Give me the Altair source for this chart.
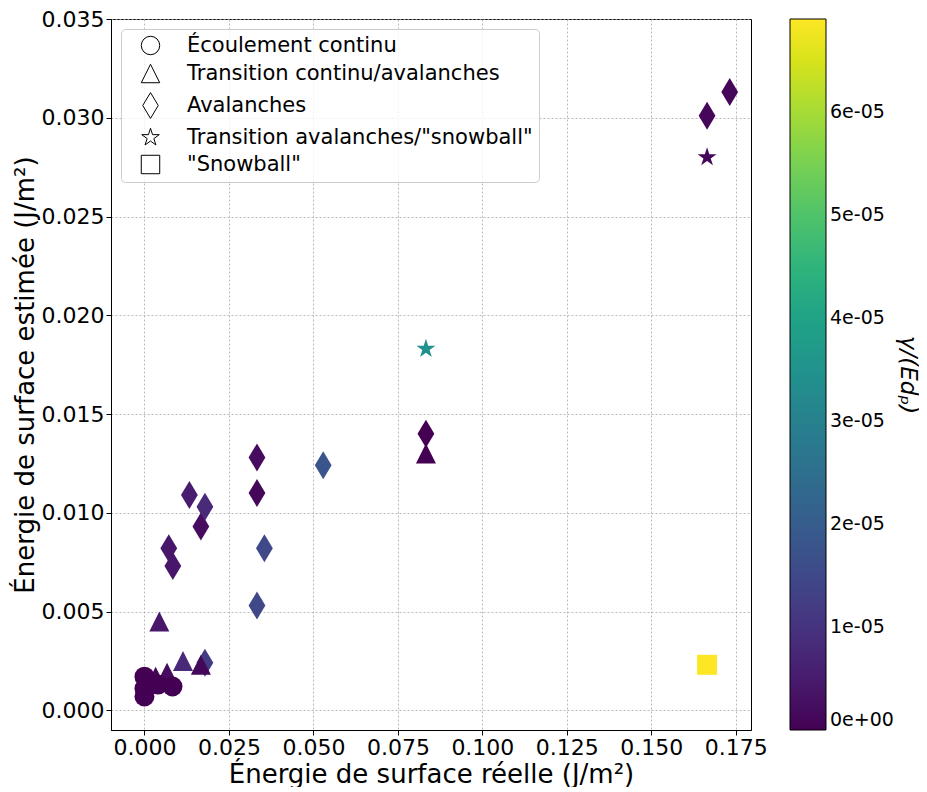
import altair as alt
import pandas as pd

# ---- data ----
categories = ["Écoulement continu", "Transition continu/avalanches", "Avalanches",
              'Transition avalanches/"snowball"', '"Snowball"']

# Avalanches (thin diamonds)
aval_x = [0.0072, 0.0084, 0.0133, 0.0167, 0.0179, 0.0179, 0.0333, 0.0333, 0.0333, 0.0355, 0.0529, 0.0833, 0.1665, 0.1732]
aval_y = [0.0082, 0.0073, 0.0109, 0.0093, 0.0103, 0.0024, 0.0128, 0.0110, 0.0053, 0.0082, 0.0124, 0.0140, 0.0301, 0.0313]
aval_c = [4e-6, 4e-6, 5e-6, 2e-6, 8e-6, 1.2e-5, 2e-6, 1e-6, 1.5e-5, 1.5e-5, 1.8e-5, 0.0, 1e-6, 1e-6]

# Transition continu/avalanches (triangles)
trans_x = [0.0033, 0.0067, 0.0044, 0.0114, 0.0167, 0.0833]
trans_y = [0.0017, 0.0019, 0.0045, 0.0025, 0.0023, 0.0130]
trans_c = [1e-6, 2e-6, 4e-6, 8e-6, 1e-6, 0.0]

# Écoulement continu (circles)
cont_x = [0.0000, 0.0000, 0.0000, 0.0040, 0.0083]
cont_y = [0.0017, 0.0007, 0.0011, 0.0013, 0.0012]
cont_c = [0.0, 0.0, 0.0, 0.0, 0.0]

# Transition avalanches/"snowball" (stars)
star_x = [0.0833, 0.1665]
star_y = [0.0183, 0.0280]
star_c = [3.45e-5, 1e-6]

# "Snowball" (square)
snow_x = [0.1665]
snow_y = [0.0023]
snow_c = [6.9e-5]

x_ticks = [0.0, 0.025, 0.05, 0.075, 0.1, 0.125, 0.15, 0.175]
y_ticks = [0.0, 0.005, 0.01, 0.015, 0.02, 0.025, 0.03, 0.035]
c_ticks = [0.0, 1e-5, 2e-5, 3e-5, 4e-5, 5e-5, 6e-5]

rows = []
for xs, ys, cs, cat in [(aval_x, aval_y, aval_c, categories[2]),
                        (trans_x, trans_y, trans_c, categories[1]),
                        (cont_x, cont_y, cont_c, categories[0]),
                        (star_x, star_y, star_c, categories[3]),
                        (snow_x, snow_y, snow_c, categories[4])]:
    for a, b, c in zip(xs, ys, cs):
        rows.append({"x": a, "y": b, "c": c, "cat": cat})
df = pd.DataFrame(rows)
df["order"] = range(len(df))

tri_path = "M0,-1L1,1L-1,1Z"
thin_diamond = "M0,-1.4L0.84,0L0,1.4L-0.84,0Z"
star_path = ("M0,-1L0.2245,-0.309L0.951,-0.309L0.363,0.118L0.588,0.809L0,0.382"
             "L-0.588,0.809L-0.363,0.118L-0.951,-0.309L-0.2245,-0.309Z")
shapes = ["circle", tri_path, thin_diamond, star_path, "square"]

font = "DejaVu Sans"

chart = alt.Chart(df).mark_point(filled=True, opacity=1, size=400, strokeWidth=0).encode(
    x=alt.X("x:Q", scale=alt.Scale(domain=[-0.0099, 0.1795], nice=False, zero=False),
            axis=alt.Axis(values=x_ticks, format=".3f",
                          title="Énergie de surface réelle (J/m²)", titlePadding=3)),
    y=alt.Y("y:Q", scale=alt.Scale(domain=[-0.001, 0.035], nice=False, zero=False),
            axis=alt.Axis(values=y_ticks, format=".3f",
                          title="Énergie de surface estimée (J/m²)", titlePadding=3)),
    shape=alt.Shape("cat:N", scale=alt.Scale(domain=categories, range=shapes),
                    legend=alt.Legend(title=None, orient="none", legendX=10, legendY=10,
                                      symbolFillColor="white", symbolStrokeColor="black",
                                      symbolStrokeWidth=1, symbolSize=340, symbolOpacity=1,
                                      labelFontSize=21, labelFont=font, labelColor="black",
                                      labelOffset=26, symbolOffset=13, rowPadding=5,
                                      padding=6, fillColor="rgba(255,255,255,0.8)",
                                      strokeColor="#cccccc", cornerRadius=4,
                                      labelLimit=500)),
    color=alt.Color("c:Q", scale=alt.Scale(scheme="viridis", domain=[0, 6.9e-5]),
                    legend=alt.Legend(title="γ/(Edₚ)", orient="right", offset=39,
                                      gradientLength=711, gradientThickness=36,
                                      gradientStrokeColor="black", gradientStrokeWidth=1,
                                      values=c_ticks, labelOverlap=False,
                                      labelExpr="datum.value == 0 ? '0e+00' : replace(format(datum.value, '.0e'), 'e-', 'e-0')",
                                      labelFontSize=19, labelFont=font, labelColor="black",
                                      labelOffset=4, labelBaseline="middle",
                                      titleOrient="right", titleAnchor="middle",
                                      titleFontSize=23, titleFont=font, titleFontStyle="italic",
                                      titleFontWeight="normal", titleColor="black",
                                      titlePadding=2, padding=0)),
    order=alt.Order("order:Q"),
).properties(
    width=640, height=711, padding={"left": 4, "top": 0, "right": 0, "bottom": 0}
).configure_view(
    stroke="black", strokeWidth=1
).configure_axis(
    labelFont=font, titleFont=font, labelFontSize=22, titleFontSize=26,
    titleFontWeight="normal", labelColor="black", titleColor="black",
    tickColor="black", domainColor="black", tickSize=5, labelPadding=2,
    grid=True, gridColor="#a8a8a8", gridDash=[2, 2], gridWidth=0.8
)

chart.save("out.html", embed_options={"renderer": "svg", "actions": False})
